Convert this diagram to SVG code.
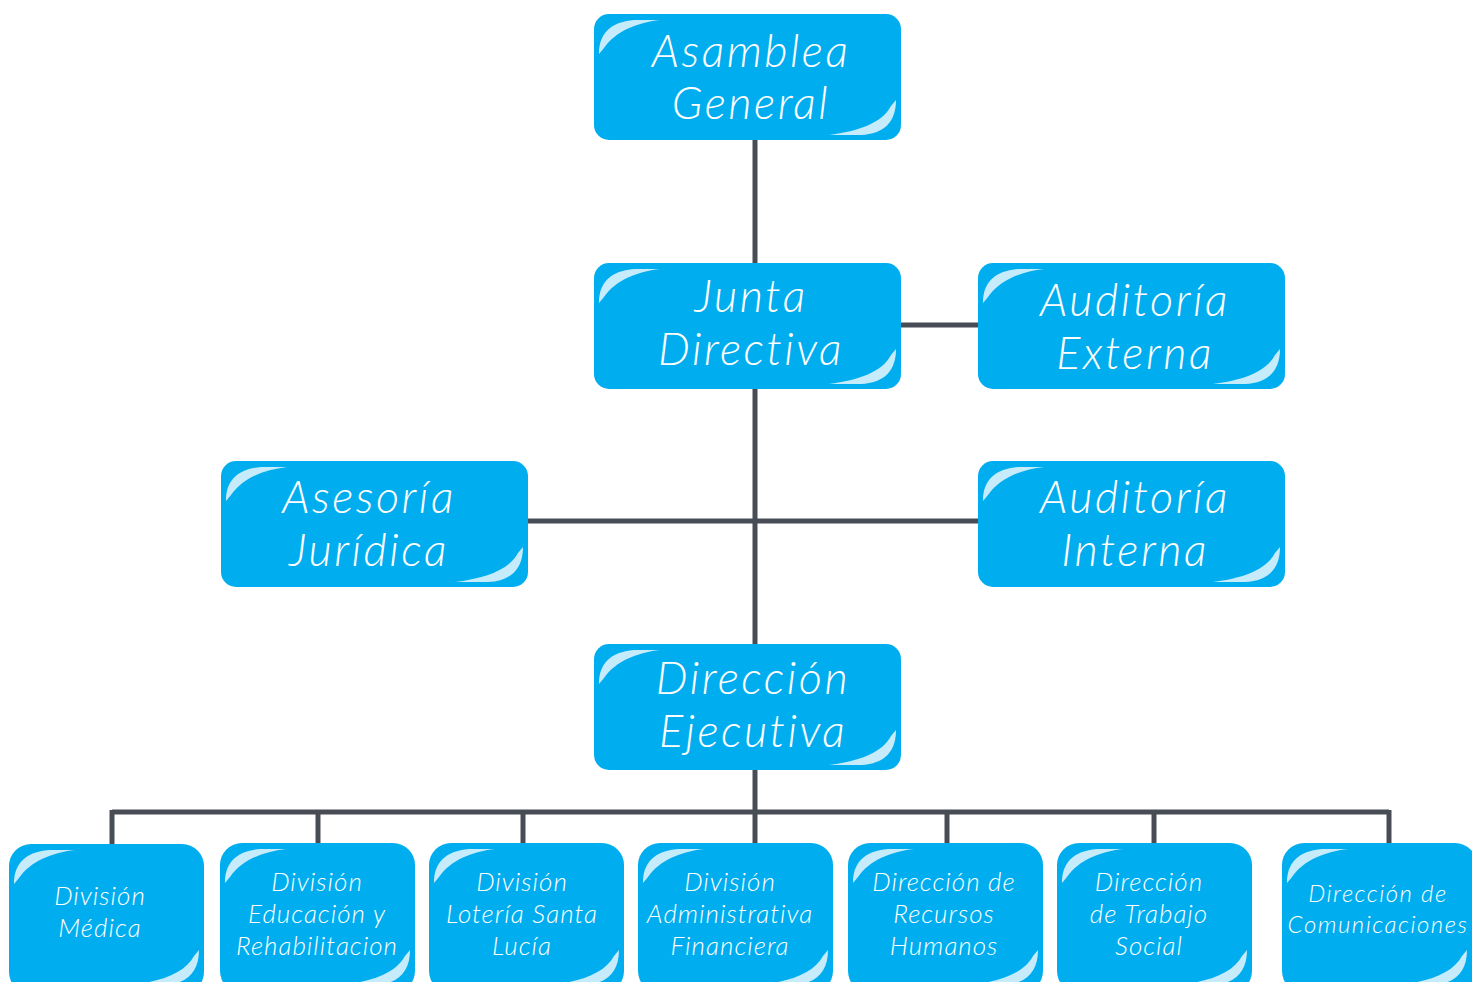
<svg xmlns="http://www.w3.org/2000/svg" xmlns:xlink="http://www.w3.org/1999/xlink" width="1472" height="982" viewBox="0 0 1472 982">
<style>
.box{fill:#00aeef}
.gl{fill:#c6ebfa}
.t{font-family:Lato,"Liberation Sans",sans-serif;font-style:italic;font-weight:300;fill:#ffffff;text-anchor:middle}
.big{font-size:45px;letter-spacing:2.5px}
.sm{font-size:26px;letter-spacing:1px}
.xs{font-size:24px;letter-spacing:1.5px}
.c{stroke:#474c55;stroke-width:5;fill:none}
</style>
<defs>
<path id="tl" d="M5,40 C5,20 16,8 40,6 L66,6 C42,9 22,17 10,34 Z"/>
<path id="brL" d="M-5,-40 C-5,-18 -17,-6 -40,-5 L-72,-5 C-42,-9 -19,-17 -10,-34 Z"/>
</defs>
<g id="connectors" class="c">
<line x1="755" y1="140" x2="755" y2="644"/>
<line x1="901" y1="325" x2="978" y2="325"/>
<line x1="528" y1="521" x2="978" y2="521"/>
<line x1="755" y1="770" x2="755" y2="843"/>
<line x1="112" y1="812" x2="1389" y2="812"/>
<line x1="112" y1="810" x2="112" y2="845"/>
<line x1="318" y1="810" x2="318" y2="845"/>
<line x1="523" y1="810" x2="523" y2="845"/>
<line x1="947" y1="810" x2="947" y2="845"/>
<line x1="1154" y1="810" x2="1154" y2="845"/>
<line x1="1389" y1="810" x2="1389" y2="845"/>
</g>
<g id="asamblea">
<rect class="box" x="594" y="14" width="307" height="126" rx="15"/>
<use class="gl" href="#tl" x="594" y="14"/>
<use class="gl" href="#brL" x="901" y="140"/>
<text class="t big" x="751" y="67">Asamblea</text>
<text class="t big" x="751" y="119">General</text>
</g>
<g id="junta">
<rect class="box" x="594" y="263" width="307" height="126" rx="15"/>
<use class="gl" href="#tl" x="594" y="263"/>
<use class="gl" href="#brL" x="901" y="389"/>
<text class="t big" x="751" y="312">Junta</text>
<text class="t big" x="751" y="365">Directiva</text>
</g>
<g id="aud-externa">
<rect class="box" x="978" y="263" width="307" height="126" rx="15"/>
<use class="gl" href="#tl" x="978" y="263"/>
<use class="gl" href="#brL" x="1285" y="389"/>
<text class="t big" x="1135" y="316">Auditoría</text>
<text class="t big" x="1135" y="369">Externa</text>
</g>
<g id="asesoria">
<rect class="box" x="221" y="461" width="307" height="126" rx="15"/>
<use class="gl" href="#tl" x="221" y="461"/>
<use class="gl" href="#brL" x="528" y="587"/>
<text class="t big" x="369" y="513">Asesoría</text>
<text class="t big" x="369" y="566">Jurídica</text>
</g>
<g id="aud-interna">
<rect class="box" x="978" y="461" width="307" height="126" rx="15"/>
<use class="gl" href="#tl" x="978" y="461"/>
<use class="gl" href="#brL" x="1285" y="587"/>
<text class="t big" x="1135" y="513">Auditoría</text>
<text class="t big" x="1135" y="566">Interna</text>
</g>
<g id="direccion-ejecutiva">
<rect class="box" x="594" y="644" width="307" height="126" rx="15"/>
<use class="gl" href="#tl" x="594" y="644"/>
<use class="gl" href="#brL" x="901" y="770"/>
<text class="t big" x="753" y="694">Dirección</text>
<text class="t big" x="753" y="747">Ejecutiva</text>
</g>
<g id="div-medica">
<rect class="box" x="9" y="844" width="195" height="150" rx="22"/>
<use class="gl" href="#tl" x="9" y="844"/>
<use class="gl" href="#brL" x="204" y="990"/>
<text class="t sm" x="100" y="905">División</text>
<text class="t sm" x="100" y="937">Médica</text>
</g>
<g id="div-educacion">
<rect class="box" x="220" y="843" width="195" height="150" rx="22"/>
<use class="gl" href="#tl" x="220" y="843"/>
<use class="gl" href="#brL" x="415" y="990"/>
<text class="t sm" x="317" y="891">División</text>
<text class="t sm" x="317" y="923">Educación y</text>
<text class="t sm" x="317" y="955">Rehabilitacion</text>
</g>
<g id="div-loteria">
<rect class="box" x="429" y="843" width="195" height="150" rx="22"/>
<use class="gl" href="#tl" x="429" y="843"/>
<use class="gl" href="#brL" x="624" y="990"/>
<text class="t sm" x="522" y="891">División</text>
<text class="t sm" x="522" y="923">Lotería Santa</text>
<text class="t sm" x="522" y="955">Lucía</text>
</g>
<g id="div-administrativa">
<rect class="box" x="638" y="843" width="195" height="150" rx="22"/>
<use class="gl" href="#tl" x="638" y="843"/>
<use class="gl" href="#brL" x="833" y="990"/>
<text class="t sm" x="730" y="891">División</text>
<text class="t sm" x="730" y="923">Administrativa</text>
<text class="t sm" x="730" y="955">Financiera</text>
</g>
<g id="dir-rrhh">
<rect class="box" x="848" y="843" width="195" height="150" rx="22"/>
<use class="gl" href="#tl" x="848" y="843"/>
<use class="gl" href="#brL" x="1043" y="990"/>
<text class="t sm" x="944" y="891">Dirección de</text>
<text class="t sm" x="944" y="923">Recursos</text>
<text class="t sm" x="944" y="955">Humanos</text>
</g>
<g id="dir-trabajo-social">
<rect class="box" x="1057" y="843" width="195" height="150" rx="22"/>
<use class="gl" href="#tl" x="1057" y="843"/>
<use class="gl" href="#brL" x="1252" y="990"/>
<text class="t sm" x="1149" y="891">Dirección</text>
<text class="t sm" x="1149" y="923">de Trabajo</text>
<text class="t sm" x="1149" y="955">Social</text>
</g>
<g id="dir-comunicaciones">
<rect class="box" x="1282" y="843" width="195" height="150" rx="22"/>
<use class="gl" href="#tl" x="1282" y="843"/>
<use class="gl" href="#brL" x="1472" y="990"/>
<text class="t xs" x="1378" y="902">Dirección de</text>
<text class="t xs" x="1378" y="933">Comunicaciones</text>
</g>
</svg>
